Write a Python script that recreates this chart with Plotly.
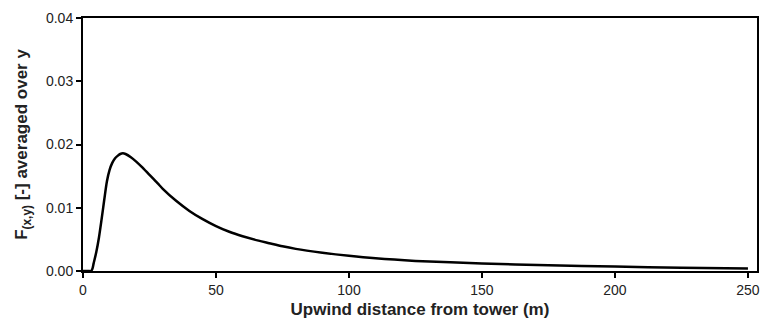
import plotly.graph_objects as go

distance_m = [0, 2, 3, 3.5, 4, 5, 6, 7, 8, 9, 10, 11, 12, 13, 14, 15, 16, 18, 20, 22, 25, 28, 30, 35,
              40, 45, 50, 55, 60, 66, 70, 75, 80, 90, 100, 110, 125, 150, 175, 200, 225, 250]
footprint = [0, 0, 0.0, 0.0003, 0.0012, 0.0030, 0.0053, 0.0082, 0.0113, 0.0142, 0.0160, 0.0171,
             0.0178, 0.0182, 0.0185, 0.0186, 0.0185, 0.0180, 0.0173, 0.0165, 0.0152, 0.0139,
             0.0130, 0.0111, 0.0095, 0.0082, 0.0071, 0.0062, 0.0055, 0.0048, 0.0044, 0.0039,
             0.0035, 0.0029, 0.0024, 0.0020, 0.0016, 0.0012, 0.0009, 0.0007, 0.0005, 0.0004]
x_ticks = [0, 50, 100, 150, 200, 250]
y_ticks = [0.00, 0.01, 0.02, 0.03, 0.04]

fig = go.Figure()
fig.add_trace(go.Scatter(x=distance_m, y=footprint, mode="lines",
                         line=dict(color="black", width=2.5, shape="spline", smoothing=0.8),
                         showlegend=False))

font = dict(family="Liberation Sans, Arial, sans-serif", size=14, color="#222")
fig.update_layout(
    width=770, height=329,
    margin=dict(l=83, r=10, t=16, b=58),
    paper_bgcolor="white", plot_bgcolor="white",
    font=font,
    xaxis=dict(range=[0, 253.4], tickvals=x_ticks, ticks="outside", ticklen=5, tickwidth=2,
               tickcolor="black", showline=True, linecolor="black", linewidth=2, mirror=True,
               showgrid=False, zeroline=False,
               title=dict(text="<b>Upwind distance from tower (m)</b>", standoff=6)),
    yaxis=dict(range=[0, 0.04], tickvals=y_ticks, tickformat=".2f", ticks="outside", ticklen=5,
               tickwidth=2, tickcolor="black", showline=True, linecolor="black", linewidth=2,
               mirror=True, showgrid=False, zeroline=False,
               title=dict(text="<b>F<sub>(x,y)</sub> [-] averaged over y</b>", standoff=14)),
)
fig.write_html("out.html")
